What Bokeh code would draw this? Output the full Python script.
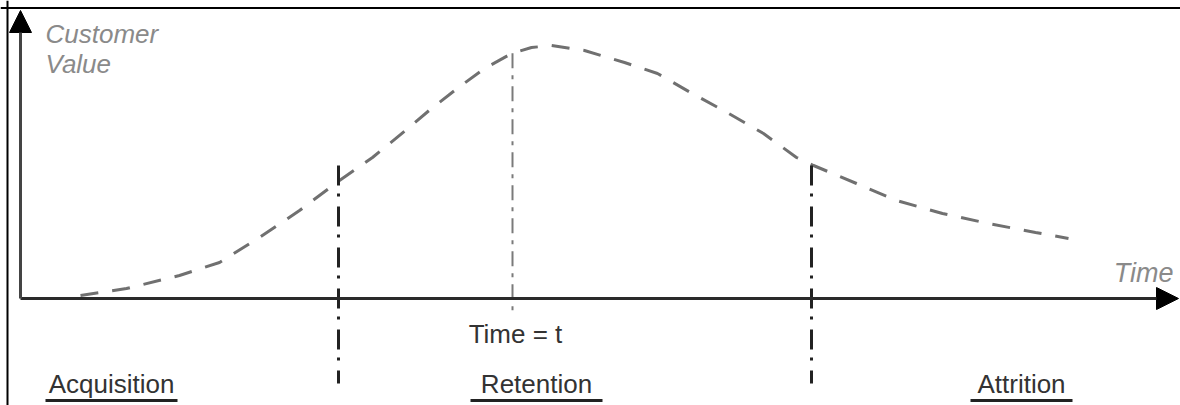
import numpy as np
from bokeh.plotting import figure
from bokeh.models import Span, Arrow, NormalHead, Label, ColumnDataSource
from bokeh.core.properties import value
from bokeh.embed import file_html
from bokeh.resources import INLINE

# ---- data (time origin at the value axis, value origin at the time axis)
curve_time = [60, 106, 159, 199, 239, 279, 319, 352, 385, 411, 438, 464, 491, 511, 531,
              564, 604, 637, 670, 703, 743, 776, 793, 836, 876, 922, 968, 1015, 1048]
curve_value = [3, 10, 23, 36, 61, 88, 118, 141, 168, 190, 211, 230, 245, 251, 253,
               248, 236, 225, 206, 188, 165, 141, 133, 115, 98, 85, 75, 66, 60]

time_t = 492                      # "Time = t"
stage_bounds = [318, 791]          # boundaries between stages
stage_names = ["Acquisition", "Retention", "Attrition"]
stage_centers = [91, 516, 1001]

y_title = ["Customer", "Value"]
x_title = "Time"
t_label = "Time = t"

FONT = "Liberation Sans"
TXT_SHIFT = 10   # compensates the svg baseline offset

p = figure(width=1180, height=405, x_range=(-20, 1160), y_range=(-107, 298),
           output_backend="svg", toolbar_location=None, min_border=0,
           x_axis_location=None, y_axis_location=None)
p.grid.visible = False
p.outline_line_color = None
p.background_fill_color = "white"
p.border_fill_color = "white"

# frame lines (top and left)
p.add_layout(Span(location=-13, dimension="height", line_color="black", line_width=2))
p.add_layout(Span(location=290.5, dimension="width", line_color="black", line_width=2))

# curve
p.line(curve_time, curve_value, line_color="#707070", line_width=3, line_dash="18 14")

# time = t line
t_top = float(np.interp(time_t, curve_time, curve_value))
p.segment(x0=[time_t], y0=[t_top], x1=[time_t], y1=[-14],
          line_color="#7a7a7a", line_width=2, line_dash="15 7 4 7")

# stage boundary lines
p.segment(x0=stage_bounds, y0=[133] * len(stage_bounds), x1=stage_bounds,
          y1=[-85] * len(stage_bounds), line_color="#222222", line_width=3,
          line_dash="20 8 3 10")

# axes with arrows
p.add_layout(Arrow(end=NormalHead(size=22, fill_color="black", line_color="black"),
                   x_start=0, y_start=0, x_end=1158, y_end=0,
                   line_color="#2a2a2a", line_width=3))
p.add_layout(Arrow(end=NormalHead(size=22, fill_color="black", line_color="black"),
                   x_start=0, y_start=0, x_end=0, y_end=288,
                   line_color="#444444", line_width=3))

# axis titles
for i, txt in enumerate(y_title):
    p.add_layout(Label(x=25, y=255 - 30 * i + TXT_SHIFT, text=txt, text_font=FONT,
                       text_font_size="26px", text_font_style="italic",
                       text_color="#8a8a8a", text_baseline="alphabetic"))
p.add_layout(Label(x=1153, y=16 + TXT_SHIFT, text=x_title, text_font=FONT,
                   text_font_size="27px", text_font_style="italic",
                   text_color="#8a8a8a", text_align="right",
                   text_baseline="alphabetic"))

# time = t label
p.add_layout(Label(x=time_t + 3, y=-45 + TXT_SHIFT, text=t_label, text_font=FONT,
                   text_font_size="26px", text_color="#333333",
                   text_align="center", text_baseline="alphabetic"))

# stage labels with underlines
src = ColumnDataSource(dict(x=stage_centers, y=[-95 + TXT_SHIFT] * 3, text=stage_names))
p.text(x="x", y="y", text="text", source=src, text_font=value(FONT),
       text_font_size="26px", text_color="#333333", text_align="center",
       text_baseline="alphabetic")
half = [66, 66, 51]
p.segment(x0=[c - h for c, h in zip(stage_centers, half)], y0=[-102] * 3,
          x1=[c + h for c, h in zip(stage_centers, half)], y1=[-102] * 3,
          line_color="#222222", line_width=3)

open("out.html", "w").write(file_html(p, INLINE))
